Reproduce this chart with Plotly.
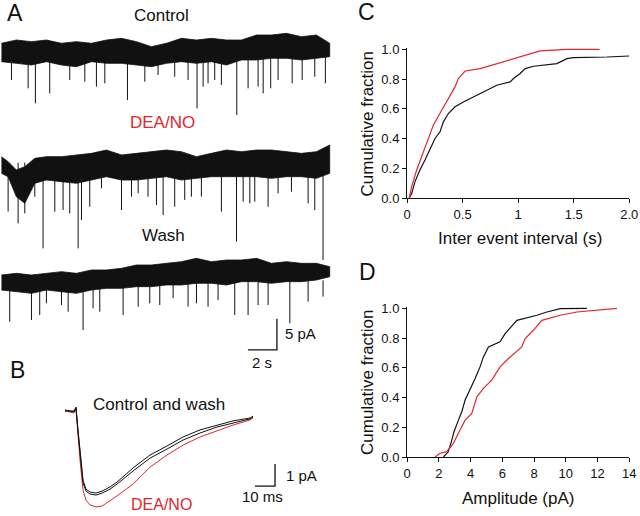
import plotly.graph_objects as go

# ---------------- DATA ----------------
# Panel A: recordings (time in s, current in pA relative to each trace's baseline)
ENV_T = [0, 1.03, 2.07, 3.10, 4.14, 5.17, 6.21, 7.24, 8.28, 9.31, 10.34, 11.38,
         12.41, 13.45, 14.48, 15.52, 16.55, 17.59, 18.62, 19.66, 20.69, 21.72, 22.64]
CTRL_TOP = [1.24, 1.77, 1.51, 1.77, 1.24, 1.51, 1.24, 1.77, 2.04, 1.51, 0.70, 1.24,
            2.04, 1.77, 2.04, 1.77, 1.77, 2.58, 2.58, 2.85, 2.31, 2.58, 1.24]
CTRL_BOT = [-1.72, -1.99, -2.26, -1.72, -2.26, -2.53, -1.72, -1.99, -1.99, -2.26, -2.53, -1.99,
            -1.72, -1.99, -1.72, -2.26, -1.45, -1.45, -1.18, -1.18, -1.45, -1.18, -0.91]
CTRL_EV_T = [0.69, 1.84, 2.34, 3.33, 4.71, 5.75, 6.55, 7.13, 8.69, 9.89, 10.80, 11.95, 12.87,
             13.49, 13.91, 14.25, 14.71, 15.17, 16.23, 17.01, 17.70, 18.05, 18.57, 19.08,
             20.05, 20.74, 21.61, 22.34]
CTRL_EV_A = [-4.68, -6.02, -8.44, -6.83, -4.68, -4.95, -5.75, -5.22, -7.90, -4.95, -3.87, -4.14,
             -4.68, -9.25, -5.75, -5.22, -4.68, -5.48, -10.32, -6.02, -5.75, -6.83, -6.02, -4.68,
             -5.22, -4.68, -4.14, -5.22]

DEA_ENV_T = [0, 0.46, 1.03, 1.61, 2.30, 3.10, 4.14, 5.17, 6.21, 7.24, 8.28, 9.31, 10.34,
             11.38, 12.41, 13.45, 14.48, 15.52, 16.55, 17.59, 18.62, 19.66, 20.69, 21.72, 22.64]
DEA_TOP = [0.96, 0.15, -1.19, -0.66, 0.69, 0.96, 0.96, 1.23, 1.49, 2.03, 1.23, 1.49, 1.76,
           2.03, 1.76, 0.96, 1.49, 2.03, 1.76, 2.03, 2.03, 1.76, 1.49, 1.76, 2.84]
DEA_BOT = [-1.73, -2.27, -5.49, -6.57, -3.34, -2.81, -3.08, -3.34, -2.81, -2.27, -2.81, -2.81,
           -2.54, -2.27, -2.81, -2.54, -2.27, -2.27, -2.27, -2.27, -2.54, -2.27, -2.27, -2.54, -1.73]
DEA_EV_T = [0.46, 1.15, 1.61, 2.30, 2.87, 3.68, 4.25, 4.71, 5.29, 5.52, 6.09, 6.90, 8.28, 8.97,
            9.43, 10.11, 10.69, 11.15, 11.95, 12.64, 13.10, 13.79, 15.17, 16.21, 16.67, 17.13,
            17.47, 18.39, 19.08, 20.00, 21.15, 21.61, 22.18]
DEA_EV_A = [-7.91, -9.80, -8.18, -5.49, -13.83, -7.91, -7.65, -8.18, -13.83, -9.26, -7.11, -4.15,
            -7.65, -5.49, -4.96, -5.49, -6.84, -8.45, -7.11, -6.03, -5.49, -5.49, -7.91, -12.75,
            -6.30, -6.57, -6.30, -7.11, -4.96, -4.69, -6.57, -7.65, -15.71]

WASH_TOP = [0.87, 1.14, 0.87, 1.14, 1.41, 1.14, 1.68, 1.68, 1.95, 2.48, 2.48, 2.75, 3.02,
            3.56, 3.02, 3.29, 3.29, 3.56, 2.75, 3.02, 2.75, 2.75, 2.22]
WASH_BOT = [-1.55, -1.82, -2.09, -1.55, -1.82, -2.09, -1.55, -1.28, -1.28, -1.01, -1.01, -0.74,
            -0.74, -0.47, -0.47, -0.74, -0.20, -0.20, -0.47, -0.20, -0.20, 0.06, 0.60]
WASH_EV_T = [0.57, 2.07, 2.64, 3.10, 4.14, 4.60, 5.63, 6.32, 6.78, 8.39, 9.43, 10.23, 10.92,
             11.84, 12.87, 13.45, 14.25, 14.94, 16.09, 17.01, 17.70, 18.39, 19.89, 21.15, 22.18]
WASH_EV_A = [-6.66, -6.39, -5.58, -3.70, -3.97, -5.04, -8.00, -4.51, -5.04, -5.58, -4.24, -3.70,
             -3.97, -2.89, -4.24, -3.70, -4.24, -3.16, -5.58, -5.58, -3.97, -3.97, -6.92, -3.43, -2.62]

TRACE_OFFSETS = {"Control": -5.0, "DEA/NO": -23.0, "Wash": -42.0}
SCALE_A_TIME = 2      # s
SCALE_A_CURR = 5      # pA

# Panel B: averaged mEPSCs (ms, pA)
B_T = [0, 2.5, 4.5, 5.5, 6.5, 7.5, 9, 10.5, 12.5, 15.5, 18.5, 22.5, 26, 34, 42.5, 51, 59,
       67.5, 76, 84, 92.5, 94]
B_CONTROL = [0, 0, -0.05, 0.14, -0.86, -1.91, -3.14, -3.55, -3.68, -3.73, -3.64, -3.45, -3.23,
             -2.59, -2.00, -1.59, -1.18, -0.86, -0.64, -0.45, -0.32, -0.23]
B_WASH = [0.05, 0, 0, 0.18, -0.95, -2.00, -3.27, -3.64, -3.77, -3.82, -3.73, -3.55, -3.32,
          -2.73, -2.14, -1.73, -1.32, -1.00, -0.73, -0.55, -0.36, -0.27]
B_DEA = [0, -0.05, -0.09, 0.09, -1.09, -2.23, -3.59, -4.05, -4.27, -4.36, -4.32, -4.09, -3.86,
         -3.32, -2.55, -2.00, -1.55, -1.18, -0.91, -0.64, -0.41, -0.32]
SCALE_B_TIME = 10     # ms
SCALE_B_CURR = 1      # pA

# Panel C: cumulative inter-event interval
C_CTRL_X = [0.02, 0.042, 0.072, 0.117, 0.162, 0.207, 0.252, 0.297, 0.327, 0.372, 0.432, 0.507,
            0.597, 0.687, 0.808, 0.928, 0.958, 1.018, 1.063, 1.138, 1.349, 1.438, 1.498, 1.799, 2.0]
C_CTRL_Y = [0.0, 0.03, 0.11, 0.19, 0.255, 0.333, 0.40, 0.445, 0.512, 0.568, 0.613, 0.646,
            0.68, 0.713, 0.758, 0.781, 0.803, 0.837, 0.870, 0.886, 0.904, 0.937, 0.944, 0.948, 0.955]
C_DEA_X = [0.02, 0.042, 0.087, 0.162, 0.237, 0.312, 0.387, 0.432, 0.462, 0.523, 0.658, 0.808,
           0.958, 1.093, 1.198, 1.438, 1.733]
C_DEA_Y = [0.0, 0.076, 0.188, 0.344, 0.49, 0.59, 0.69, 0.747, 0.803, 0.854, 0.870, 0.904,
           0.937, 0.97, 0.989, 1.0, 1.0]
C_XTICKS = [0, 0.5, 1, 1.5, 2.0]
C_XTICKTEXT = ["0", "0.5", "1", "1.5", "2.0"]

# Panel D: cumulative amplitude
D_CTRL_X = [2.29, 2.60, 2.82, 2.96, 3.24, 3.45, 3.66, 3.87, 4.08, 4.29, 4.60, 4.81, 5.13, 5.86,
            6.18, 6.92, 8.18, 8.81, 9.65, 11.33]
D_CTRL_Y = [0.0, 0.035, 0.114, 0.17, 0.248, 0.304, 0.383, 0.43, 0.483, 0.528, 0.606, 0.673,
            0.74, 0.774, 0.83, 0.919, 0.953, 0.975, 0.998, 1.0]
D_DEA_X = [1.77, 2.08, 2.50, 2.92, 3.34, 3.66, 4.08, 4.40, 4.81, 5.34, 5.86, 6.39, 7.23, 7.44,
           7.96, 8.49, 9.65, 10.70, 13.22]
D_DEA_Y = [0.0, 0.025, 0.036, 0.092, 0.181, 0.248, 0.293, 0.405, 0.461, 0.517, 0.606, 0.662,
           0.74, 0.797, 0.852, 0.919, 0.953, 0.975, 1.0]
D_XTICKS = [0, 2, 4, 6, 8, 10, 12, 14]
Y_TICKS = [0.0, 0.2, 0.4, 0.6, 0.8, 1.0]

# ---------------- STYLE ----------------
W, H = 640, 516
RED = "#e3262b"
BLACK = "#111111"
FONT = "Liberation Sans, Arial, sans-serif"


def px(x):
    return x / W


def py(y):
    return 1 - y / H


fig = go.Figure()

# ---- Panel A ----
def band(t, top, bot, off):
    xs = list(t) + list(reversed(t))
    ys = [v + off for v in top] + [v + off for v in reversed(bot)]
    return go.Scatter(x=xs, y=ys, fill="toself", fillcolor=BLACK, mode="lines",
                      line=dict(color=BLACK, width=0.8), xaxis="x", yaxis="y",
                      hoverinfo="skip", showlegend=False)


def spikes(t, a, off):
    xs, ys = [], []
    for ti, ai in zip(t, a):
        xs += [ti, ti, None]
        ys += [off, ai + off, None]
    return go.Scatter(x=xs, y=ys, mode="lines", line=dict(color=BLACK, width=1),
                      xaxis="x", yaxis="y", hoverinfo="skip", showlegend=False)


o = TRACE_OFFSETS
fig.add_trace(band(ENV_T, CTRL_TOP, CTRL_BOT, o["Control"]))
fig.add_trace(spikes(CTRL_EV_T, CTRL_EV_A, o["Control"]))
fig.add_trace(band(DEA_ENV_T, DEA_TOP, DEA_BOT, o["DEA/NO"]))
fig.add_trace(spikes(DEA_EV_T, DEA_EV_A, o["DEA/NO"]))
fig.add_trace(band(ENV_T, WASH_TOP, WASH_BOT, o["Wash"]))
fig.add_trace(spikes(WASH_EV_T, WASH_EV_A, o["Wash"]))

# scale bar A (corner anchored at 19 s, -53.2 pA)
ca_t, ca_y = 19.0, -53.2
fig.add_trace(go.Scatter(x=[ca_t - SCALE_A_TIME, ca_t, ca_t],
                         y=[ca_y, ca_y, ca_y + SCALE_A_CURR], mode="lines",
                         line=dict(color=BLACK, width=1.3), xaxis="x", yaxis="y",
                         hoverinfo="skip", showlegend=False))

# ---- Panel B ----
fig.add_trace(go.Scatter(x=B_T, y=B_DEA, mode="lines", line=dict(color=RED, width=1),
                         xaxis="x2", yaxis="y2", showlegend=False))
fig.add_trace(go.Scatter(x=B_T, y=B_WASH, mode="lines", line=dict(color=BLACK, width=1),
                         xaxis="x2", yaxis="y2", showlegend=False))
fig.add_trace(go.Scatter(x=B_T, y=B_CONTROL, mode="lines", line=dict(color=BLACK, width=1),
                         xaxis="x2", yaxis="y2", showlegend=False))
cb_t, cb_y = 105, -3.41
fig.add_trace(go.Scatter(x=[cb_t - SCALE_B_TIME, cb_t, cb_t],
                         y=[cb_y, cb_y, cb_y + SCALE_B_CURR], mode="lines",
                         line=dict(color=BLACK, width=1.3), xaxis="x2", yaxis="y2",
                         hoverinfo="skip", showlegend=False))

# ---- Panel C ----
fig.add_trace(go.Scatter(x=C_CTRL_X, y=C_CTRL_Y, mode="lines", line=dict(color=BLACK, width=1.2),
                         xaxis="x3", yaxis="y3", showlegend=False))
fig.add_trace(go.Scatter(x=C_DEA_X, y=C_DEA_Y, mode="lines", line=dict(color=RED, width=1.2),
                         xaxis="x3", yaxis="y3", showlegend=False))

# ---- Panel D ----
fig.add_trace(go.Scatter(x=D_CTRL_X, y=D_CTRL_Y, mode="lines", line=dict(color=BLACK, width=1.2),
                         xaxis="x4", yaxis="y4", showlegend=False))
fig.add_trace(go.Scatter(x=D_DEA_X, y=D_DEA_Y, mode="lines", line=dict(color=RED, width=1.2),
                         xaxis="x4", yaxis="y4", showlegend=False))

hidden = dict(visible=False, showgrid=False, zeroline=False)
tickfont = dict(family=FONT, size=13, color=BLACK)
axstyle = dict(showline=True, linecolor=BLACK, linewidth=1, ticks="outside", ticklen=4,
               tickwidth=1, tickcolor=BLACK, showgrid=False, zeroline=False, tickfont=tickfont)

fig.update_layout(
    width=W, height=H, margin=dict(l=0, r=0, t=0, b=0, autoexpand=False),
    paper_bgcolor="white", plot_bgcolor="white",
    xaxis=dict(domain=[px(0), px(340)], range=[-0.1, 23.35], anchor="y", **hidden),
    yaxis=dict(domain=[py(361), py(20)], range=[-55, 0], anchor="x", **hidden),
    xaxis2=dict(domain=[px(50), px(300)], range=[-7.5, 117.5], anchor="y2", **hidden),
    yaxis2=dict(domain=[py(516), py(398)], range=[-4.77, 0.59], anchor="x2", **hidden),
    xaxis3=dict(domain=[px(407), px(629.3)], range=[0, 2.0], anchor="y3",
                tickvals=C_XTICKS, ticktext=C_XTICKTEXT, **axstyle),
    yaxis3=dict(domain=[py(198), py(47.5)], range=[0, 1.012], anchor="x3",
                tickvals=Y_TICKS, tickformat=".1f", **axstyle),
    xaxis4=dict(domain=[px(407), px(629.3)], range=[0, 14], anchor="y4",
                tickvals=D_XTICKS, **axstyle),
    yaxis4=dict(domain=[py(457), py(306.5)], range=[0, 1.012], anchor="x4",
                tickvals=Y_TICKS, tickformat=".1f", **axstyle),
)


def label(text, x, y, size, color=BLACK, xanchor="center", angle=0):
    fig.add_annotation(text=text, x=px(x), y=py(y), xref="paper", yref="paper",
                       xanchor=xanchor, yanchor="middle", showarrow=False, textangle=angle,
                       font=dict(family=FONT, size=size, color=color))


label("A", 5, 13, 23, xanchor="left")
label("Control", 161, 15, 17)
label("DEA/NO", 162, 123, 17, RED)
label("Wash", 163, 236, 17)
label("5 pA", 283, 333, 15, xanchor="left")
label("2 s", 262, 362, 15)
label("B", 8, 370, 23, xanchor="left")
label("Control and wash", 159, 404, 17)
label("1 pA", 284, 475, 15, xanchor="left")
label("10 ms", 262, 496, 15)
label("DEA/NO", 161, 504, 16, RED)
label("C", 356, 12, 23, xanchor="left")
label("D", 357, 272, 23, xanchor="left")
label("Cumulative fraction", 367, 123.5, 17, angle=-90)
label("Inter event interval (s)", 520, 239, 17)
label("Cumulative fraction", 367, 382, 17, angle=-90)
label("Amplitude (pA)", 518, 498, 17)

fig.write_html("out.html", config={"displayModeBar": False},
               post_script="document.body.style.margin='0';document.body.style.overflow='hidden';")
